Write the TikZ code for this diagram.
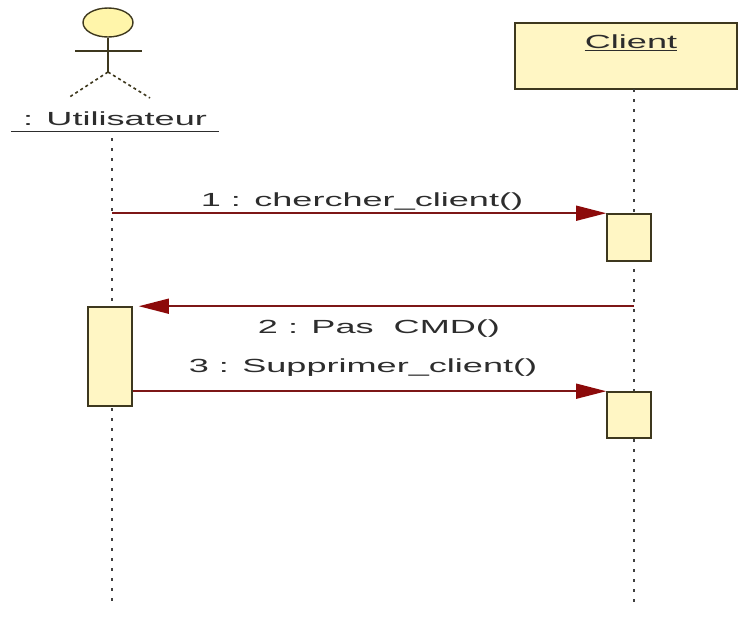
\documentclass[tikz,border=0pt]{standalone}
\usepackage{fontspec}
\setmainfont{Liberation Sans}
\usetikzlibrary{arrows.meta,shapes.geometric}

\definecolor{boxfill}{RGB}{255,246,196}
\definecolor{headfill}{RGB}{255,245,170}
\definecolor{boxline}{RGB}{62,56,30}
\definecolor{msgred}{RGB}{125,22,22}
\definecolor{tipred}{RGB}{140,10,10}
\definecolor{txtgray}{RGB}{45,45,45}
\newcommand{\wide}[1]{\scalebox{1.9}[1]{#1}}

\begin{document}
\begin{tikzpicture}[x=1pt,y=-1pt,
    lbl/.style={inner sep=0pt,anchor=base,text=txtgray,font=\fontsize{19}{22}\selectfont},
    actbox/.style={draw=boxline,fill=boxfill,line width=1.6pt,minimum width=44pt,inner sep=0pt},
    life/.style={draw=black!75,line width=2.2pt,dash pattern=on 3pt off 7pt},
    msg/.style={draw=msgred,line width=1.5pt,-{Triangle[length=30pt,width=15pt,color=tipred]}}
  ]
  \useasboundingbox (0,0) rectangle (739,625);

  % actor
  \node[ellipse,draw=boxline,fill=headfill,line width=1.4pt,minimum width=50pt,minimum height=29pt] (head) at (108,22.5) {};
  \coordinate (hip) at (108,72);
  \draw[boxline,line width=1.4pt] (head.south) -- (hip);
  \draw[boxline,line width=1.4pt] (75,51) -- (142,51);
  \draw[boxline,line width=1.6pt,dash pattern=on 3pt off 3pt] (hip) -- (68,98) (hip) -- (150,98);
  \node[lbl,inner xsep=12pt,inner ysep=6pt] (usr) at (115,125) {\wide{: Utilisateur}};
  \draw[txtgray,line width=1.2pt] (usr.south west) -- (usr.south east);

  % object
  \node[draw=boxline,fill=boxfill,line width=1.6pt,minimum width=222pt,minimum height=66pt,inner sep=0pt] (cli) at (626,56) {};
  \node[lbl,inner ysep=2pt] (clin) at (631,48) {\wide{Client}};
  \draw[txtgray,line width=1.2pt] (clin.south west) -- (clin.south east);

  % lifelines
  \coordinate (ltop) at (112,138);
  \coordinate (lbot) at (112,605);
  \coordinate (rtop) at (634,89);
  \coordinate (rbot) at (634,605);
  \draw[life] (ltop) -- (lbot);
  \draw[life] (rtop) -- (rbot);

  % activations
  \node[actbox,minimum height=99pt] (a2) at (110,356.5) {};
  \node[actbox,minimum height=47pt] (a1) at (629,237.5) {};
  \node[actbox,minimum height=46pt] (a3) at (629,415) {};

  % messages
  \draw[msg] (ltop |- a1.north west) -- (a1.north west);
  \draw[msg,shorten >=6pt] (rtop |- a2.north) -- (a2.north east);
  \draw[msg] (a2.east |- a3.north west) -- (a3.north west);

  \node[lbl] (m1) at (362,206) {\wide{1 : chercher\_client()}};
  \node[lbl] (m2) at (379,333) {\wide{2 : Pas\ \ CMD()}};
  \node[lbl] (m3) at (363,372) {\wide{3 : Supprimer\_client()}};
\end{tikzpicture}
\end{document}
